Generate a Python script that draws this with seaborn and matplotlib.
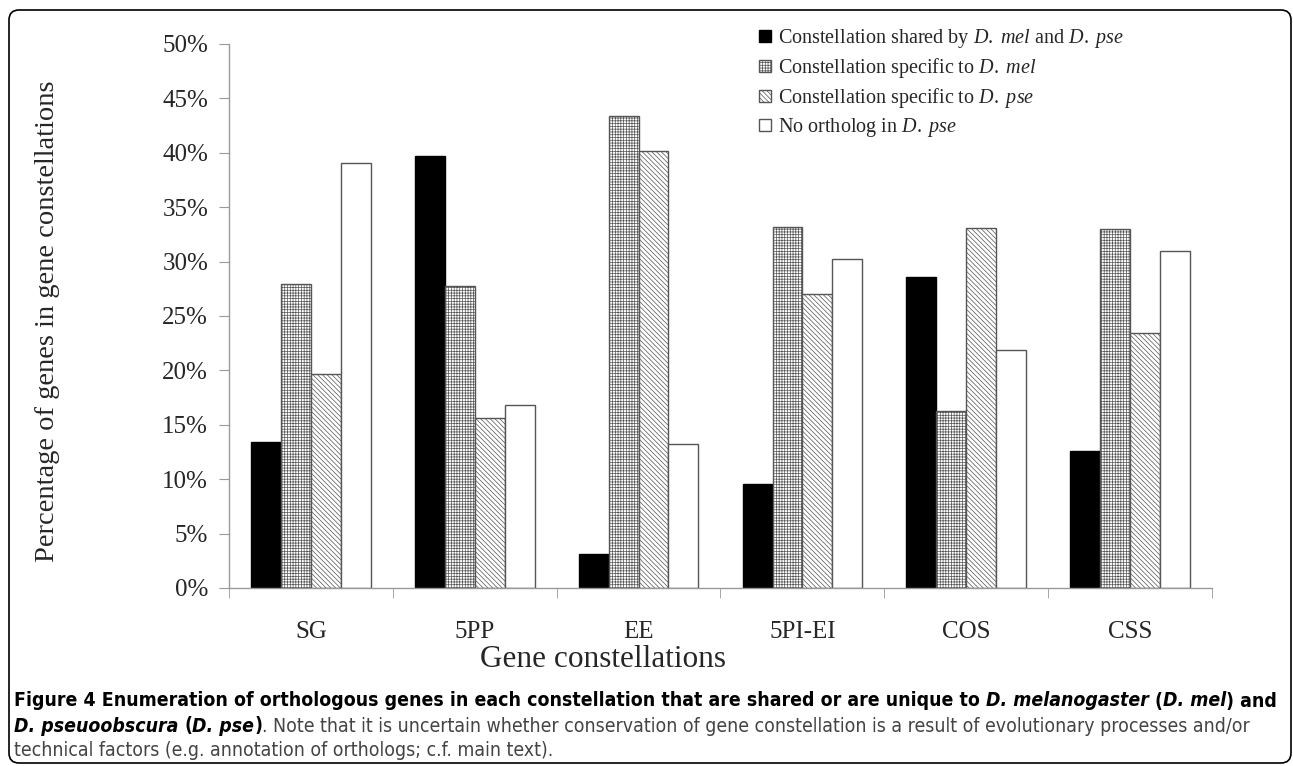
import pandas as pd
import seaborn as sns
import matplotlib
matplotlib.use('Agg')
import matplotlib.pyplot as plt
from matplotlib import font_manager as fm
from matplotlib.patches import Patch, FancyBboxPatch
from matplotlib.ticker import PercentFormatter, FixedLocator

# data (percent of genes)
groups = ['SG', '5PP', 'EE', '5PI-EI', 'COS', 'CSS']
shared = [13.4, 39.7, 3.1, 9.6, 28.6, 12.6]
mel_specific = [27.9, 27.8, 43.4, 33.2, 16.3, 33.0]
pse_specific = [19.7, 15.6, 40.2, 27.0, 33.1, 23.4]
no_ortholog = [39.1, 16.8, 13.2, 30.2, 21.9, 31.0]

kinds = ['shared', 'mel', 'pse', 'none']
legend_labels = [
    r'Constellation shared by $\mathit{D.\ mel}$ and $\mathit{D.\ pse}$',
    r'Constellation specific to $\mathit{D.\ mel}$',
    r'Constellation specific to $\mathit{D.\ pse}$',
    r'No ortholog in $\mathit{D.\ pse}$',
]

rows = []
for kind, vals in zip(kinds, [shared, mel_specific, pse_specific, no_ortholog]):
    for g, v in zip(groups, vals):
        rows.append({'group': g, 'kind': kind, 'pct': v})
df = pd.DataFrame(rows)

sns.set_style('ticks')
plt.rcParams['font.family'] = ['Liberation Serif', 'DejaVu Serif']
plt.rcParams['mathtext.fontset'] = 'custom'
plt.rcParams['mathtext.rm'] = 'Liberation Serif'
plt.rcParams['mathtext.it'] = 'Liberation Serif:italic'
plt.rcParams['hatch.linewidth'] = 0.5

W, H = 1293, 766
fig = plt.figure(figsize=(W / 100, H / 100), dpi=100)
ax = fig.add_axes([229 / W, 178 / H, 983 / W, 544 / H])

edge = '#555555'
faces = ['black', 'white', 'white', 'white']
hatches = ['', '++++++', '\\\\\\\\\\\\\\', '']

sns.barplot(data=df, x='group', y='pct', hue='kind', hue_order=kinds,
            palette=faces, saturation=1, width=0.73, edgecolor=edge,
            linewidth=1, legend=False, ax=ax)

for cont, h, fc in zip(ax.containers, hatches, faces):
    for bar in cont:
        bar.set_hatch(h)
        if fc == 'black':
            bar.set_edgecolor('black')

ax.set_ylim(0, 50)
ax.set_xlim(-0.5, len(groups) - 0.5)
ax.set_yticks(range(0, 51, 5))
ax.yaxis.set_major_formatter(PercentFormatter(decimals=0))
ax.tick_params(axis='y', length=7, color='#999999', labelsize=18, pad=8)
ax.tick_params(axis='x', which='major', length=0, labelsize=18, pad=24)
ax.xaxis.set_minor_locator(FixedLocator([i - 0.5 for i in range(len(groups) + 1)]))
ax.tick_params(axis='x', which='minor', length=7, color='#999999')

sns.despine(ax=ax)
for s in ['left', 'bottom']:
    ax.spines[s].set_color('#999999')
    ax.spines[s].set_linewidth(1)

ax.set_xlabel('Gene constellations', fontsize=22.5)
ax.xaxis.set_label_coords(0.38, -0.105)
ax.set_ylabel('Percentage of genes in gene constellations', fontsize=20.5)
ax.yaxis.set_label_coords(-0.172, 0.49)

handles = [Patch(facecolor=fc, edgecolor=('black' if fc == 'black' else edge), hatch=h)
           for fc, h in zip(faces, hatches)]
ax.legend(handles, legend_labels, loc='upper left', bbox_to_anchor=(759 / W, 1 - 27 / H),
          bbox_transform=fig.transFigure, frameon=False, fontsize=14.5,
          handlelength=0.6, handleheight=0.6, handletextpad=0.35,
          labelspacing=0.3, borderpad=0, borderaxespad=0)

# caption below the chart, drawn run by run
names = {f.name for f in fm.fontManager.ttflist}
if 'Liberation Sans Narrow' in names:
    cap_family, cap_stretch = 'Liberation Sans Narrow', 'normal'
else:
    cap_family, cap_stretch = 'DejaVu Sans', 'condensed'

styles = {
    'b': dict(fontweight='bold', fontstyle='normal', color='black'),
    'bi': dict(fontweight='bold', fontstyle='italic', color='black'),
    'r': dict(fontweight='normal', fontstyle='normal', color='#444444'),
}

cap_lines = [
    [('Figure 4 Enumeration of orthologous genes in each constellation that are shared or are unique to ', 'b'),
     ('D. melanogaster ', 'bi'), ('(', 'b'), ('D. mel', 'bi'), (') and', 'b')],
    [('D. pseuoobscura ', 'bi'), ('(', 'b'), ('D. pse', 'bi'), (')', 'b'),
     ('. Note that it is uncertain whether conservation of gene constellation is a result of evolutionary processes and/or', 'r')],
    [('technical factors (e.g. annotation of orthologs; c.f. main text).', 'r')],
]
cap_y = [701, 726, 750]
renderer = fig.canvas.get_renderer()


def run_width(text, size, st):
    t1 = fig.text(0, 0, text + '|', fontsize=size, family=cap_family, stretch=cap_stretch, **styles[st])
    t2 = fig.text(0, 0, '|', fontsize=size, family=cap_family, stretch=cap_stretch, **styles[st])
    w = t1.get_window_extent(renderer).width - t2.get_window_extent(renderer).width
    t1.remove()
    t2.remove()
    return w


base = 14
w1 = sum(run_width(t, base, st) for t, st in cap_lines[0])
cap_size = base * 1268 / w1

for line, y in zip(cap_lines, cap_y):
    x = 14
    for text, st in line:
        fig.text(x / W, 1 - y / H, text, fontsize=cap_size, family=cap_family,
                 stretch=cap_stretch, ha='left', va='center', **styles[st])
        x += run_width(text, cap_size, st)

border = FancyBboxPatch((0.09, 0.03), 12.82, 7.53, boxstyle='round,pad=0,rounding_size=0.1',
                        transform=fig.dpi_scale_trans, facecolor='none', edgecolor='black',
                        linewidth=1.2)
fig.patches.append(border)

fig.savefig('out.png', dpi=100)
